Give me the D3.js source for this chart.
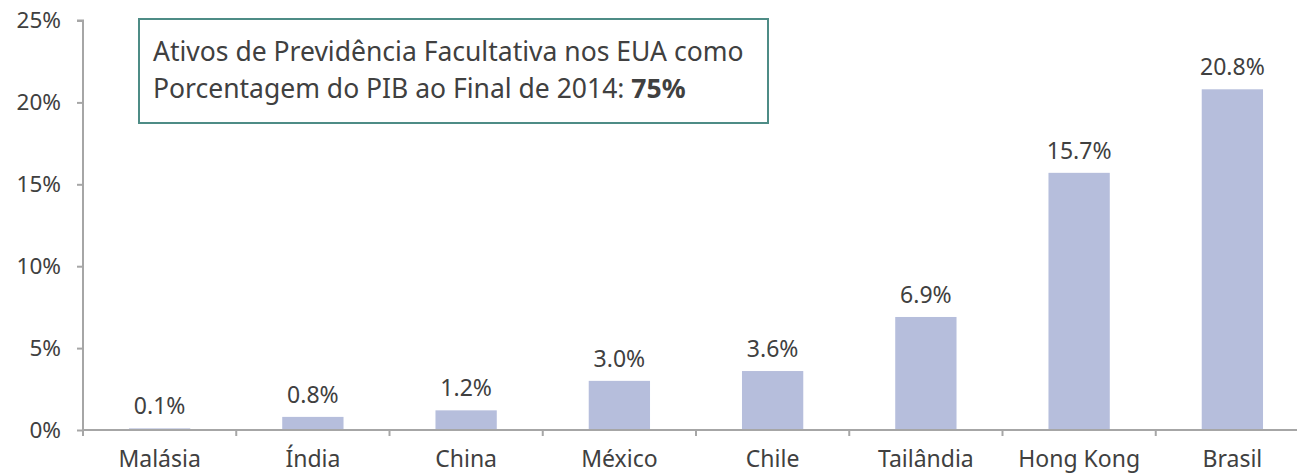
<!DOCTYPE html>
<html><head><meta charset="utf-8">
<script src="https://cdn.jsdelivr.net/npm/d3@7"></script>
<style>body{margin:0;background:#fff}svg{display:block}text{font-family:"Noto Sans",sans-serif;fill:#404040}</style>
</head><body>
<svg id="c" width="1297" height="474"></svg>
<script>
const categories = ["Malásia","Índia","China","México","Chile","Tailândia","Hong Kong","Brasil"];
const values = [0.1,0.8,1.2,3.0,3.6,6.9,15.7,20.8];
const yTicks = [0,5,10,15,20,25];
const boxLine1 = "Ativos de Previdência Facultativa nos EUA como";
const boxLine2a = "Porcentagem do PIB ao Final de 2014: ";
const boxLine2b = "75%";

const svg = d3.select("#c");
const x0 = 83, x1 = 1309, yBase = 430, yTop = 20.5;
const x = d3.scaleBand().domain(categories).range([x0,x1]).paddingInner(0.6).paddingOuter(0.3);
const y = d3.scaleLinear().domain([0,25]).range([yBase,yTop]);
const axisColor = "#a6a6a6";
const fs = 23;

// bars
svg.selectAll("rect.bar").data(values).join("rect").attr("class","bar")
  .attr("x",(d,i)=>x(categories[i])).attr("width",x.bandwidth())
  .attr("y",d=>y(d)).attr("height",d=>yBase-y(d)).attr("fill","#b6bedc");

// value labels
svg.selectAll("text.val").data(values).join("text").attr("class","val")
  .attr("x",(d,i)=>x(categories[i])+x.bandwidth()/2).attr("y",d=>y(d)-14)
  .attr("text-anchor","middle").attr("font-size",fs).text(d=>d.toFixed(1)+"%");

// y axis
const yAxis = svg.append("g").attr("transform",`translate(${x0},0)`)
  .call(d3.axisLeft(y).tickValues(yTicks).tickSize(6).tickPadding(16).tickFormat(d=>d+"%"));
yAxis.select(".domain").attr("stroke",axisColor).attr("stroke-width",2).attr("d",`M-6,${yTop}H0V${yBase}`);
yAxis.selectAll(".tick line").attr("stroke",axisColor).attr("stroke-width",2);
yAxis.selectAll(".tick text").attr("font-size",22.5).attr("fill","#404040").attr("font-family","'Noto Sans',sans-serif");

// x axis
const bandStep = x.step();
const xAxis = svg.append("g").attr("transform",`translate(0,${yBase})`);
xAxis.append("line").attr("x1",x0).attr("x2",x1).attr("stroke",axisColor).attr("stroke-width",2);
const bounds = d3.range(categories.length+1).map(i=>x0+i*bandStep);
xAxis.selectAll("line.tk").data(bounds).join("line").attr("class","tk")
  .attr("x1",d=>d).attr("x2",d=>d).attr("y1",0).attr("y2",6).attr("stroke",axisColor).attr("stroke-width",2);
xAxis.selectAll("text.cat").data(categories).join("text").attr("class","cat")
  .attr("x",d=>x(d)+x.bandwidth()/2).attr("y",37).attr("text-anchor","middle").attr("font-size",fs).text(d=>d);

// annotation box
svg.append("rect").attr("x",139).attr("y",19).attr("width",629).attr("height",104)
  .attr("fill","#fff").attr("stroke","#4e8c86").attr("stroke-width",2);
svg.append("text").attr("x",153).attr("y",61).attr("font-size",26.5).text(boxLine1);
const t2 = svg.append("text").attr("x",153).attr("y",98).attr("font-size",26.5);
t2.append("tspan").text(boxLine2a);
t2.append("tspan").attr("font-weight","bold").text(boxLine2b);
</script>
</body></html>
